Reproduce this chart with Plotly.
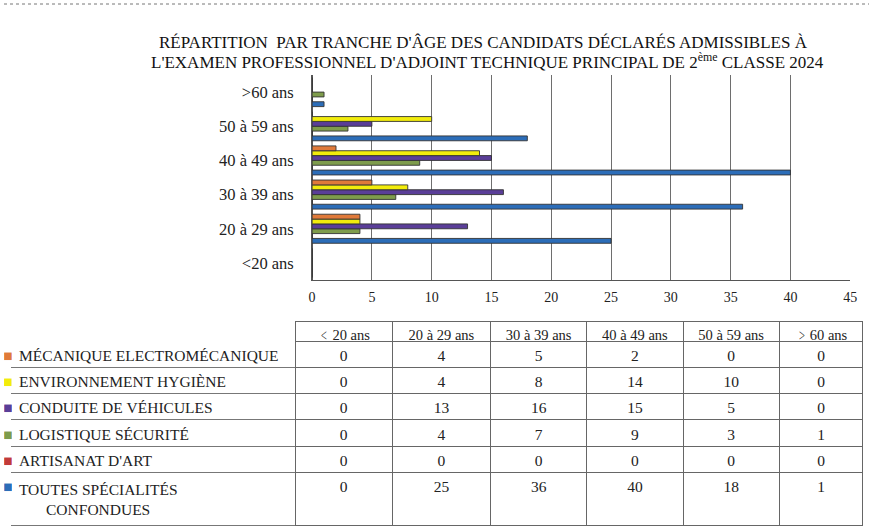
import plotly.graph_objects as go

NB = "\u00a0"

age_groups = ["<20 ans", "20 à 29 ans", "30 à 39 ans", "40 à 49 ans", "50 à 59 ans", ">60 ans"]
table_headers = ["\ufe6420 ans", "20 à 29 ans", "30 à 39 ans", "40 à 49 ans", "50 à 59 ans", "\ufe6560 ans"]
series_names = ["MÉCANIQUE ELECTROMÉCANIQUE", "ENVIRONNEMENT HYGIÈNE", "CONDUITE DE VÉHICULES",
                "LOGISTIQUE SÉCURITÉ", "ARTISANAT D'ART", "TOUTES SPÉCIALITÉS<br>" + NB * 7 + "CONFONDUES"]
mecanique = [0, 4, 5, 2, 0, 0]
environnement = [0, 4, 8, 14, 10, 0]
conduite = [0, 13, 16, 15, 5, 0]
logistique = [0, 4, 7, 9, 3, 1]
artisanat = [0, 0, 0, 0, 0, 0]
toutes = [0, 25, 36, 40, 18, 1]
x_ticks = [0, 5, 10, 15, 20, 25, 30, 35, 40, 45]

series_values = [mecanique, environnement, conduite, logistique, artisanat, toutes]
colors = ["#E07A3A", "#F2EC0C", "#5A3E98", "#7E9C4C", "#C23A3A", "#2C6DB8"]

SERIF = "Liberation Serif"
GRID = "#6e6e6e"

fig = go.Figure()
# Plotly places the first trace at the bottom of each group: add in reverse order
for name, vals, col in reversed(list(zip(series_names, series_values, colors))):
    fig.add_trace(go.Bar(
        y=age_groups, x=vals, orientation="h", name=name.replace("<br>", " "),
        marker=dict(color=col, line=dict(color="#333", width=0.9)),
        showlegend=False,
    ))

# table: column 0 = labels, column 1 = coloured squares (rendered to the left via columnorder)
label_cells = [n if "<br>" in n else n.replace(" ", NB) for n in series_names]
label_cells = [c.replace("S ", "S" + NB) for c in label_cells]
square_cells = ["■"] * len(series_names)
data_cols = [[str(v[i]) for v in series_values] for i in range(len(age_groups))]
header_vals = ["", ""] + [h.replace(" ", NB) for h in table_headers]

fig.add_trace(go.Table(
    domain=dict(x=[1 / 876, 870 / 876], y=[0.0, 1 - 321 / 528]),
    columnorder=[1, 0, 2, 3, 4, 5, 6, 7],
    columnwidth=[288, 6, 98, 100, 97, 98, 97, 85],
    header=dict(
        values=header_vals,
        align="center",
        height=20,
        fill=dict(color="white"),
        line=dict(color=["white", "white"] + ["#666"] * 6, width=1),
        font=dict(family=SERIF, size=14.5, color="#222"),
    ),
    cells=dict(
        values=[label_cells, square_cells] + data_cols,
        align=["left", "center"] + ["center"] * 6,
        height=26.3,
        fill=dict(color="white"),
        line=dict(color=["#777", "white"] + ["#666"] * 6, width=1),
        font=dict(
            family=SERIF,
            size=15.5,
            color=["#222", colors] + ["#222"] * 6,
        ),
    ),
))

fig.update_layout(
    width=876, height=528,
    margin=dict(l=0, r=0, t=0, b=0),
    paper_bgcolor="white", plot_bgcolor="white",
    barmode="group", bargap=0.15, bargroupgap=0.0,
    xaxis=dict(
        domain=[312 / 876, 857 / 876], range=[0, 45], tickvals=x_ticks,
        showgrid=True, gridcolor=GRID, gridwidth=1,
        showline=True, linecolor="#555", linewidth=1, mirror=False,
        zeroline=True, zerolinecolor="#555", zerolinewidth=1,
        ticks="", ticklen=0, ticklabelstandoff=4,
        tickfont=dict(family=SERIF, size=14, color="#222"),
    ),
    yaxis=dict(
        domain=[1 - 280 / 528, 1 - 75 / 528],
        categoryorder="array", categoryarray=age_groups,
        showline=True, linecolor="#555", linewidth=1,
        ticks="", ticklabelstandoff=14,
        tickfont=dict(family=SERIF, size=16.5, color="#222"),
    ),
    annotations=[
        dict(text="RÉPARTITION  PAR TRANCHE D'ÂGE DES CANDIDATS DÉCLARÉS ADMISSIBLES À",
             xref="paper", yref="paper", x=486 / 876, y=1 - 43 / 528, xanchor="center", yanchor="middle",
             showarrow=False, font=dict(family=SERIF, size=17, color="#111")),
        dict(text="L'EXAMEN PROFESSIONNEL D'ADJOINT TECHNIQUE PRINCIPAL DE 2<sup>ème</sup> CLASSE 2024",
             xref="paper", yref="paper", x=490 / 876, y=1 - 61 / 528, xanchor="center", yanchor="middle",
             showarrow=False, font=dict(family=SERIF, size=17, color="#111")),
    ],
    shapes=[dict(type="line", xref="paper", yref="paper", x0=0, x1=1,
                 y0=1 - 4 / 528, y1=1 - 4 / 528, line=dict(color="#777", width=1, dash="dot"))],
)

fig.write_html("out.html", config={"displayModeBar": False},
               post_script="document.body.style.margin='0';")
